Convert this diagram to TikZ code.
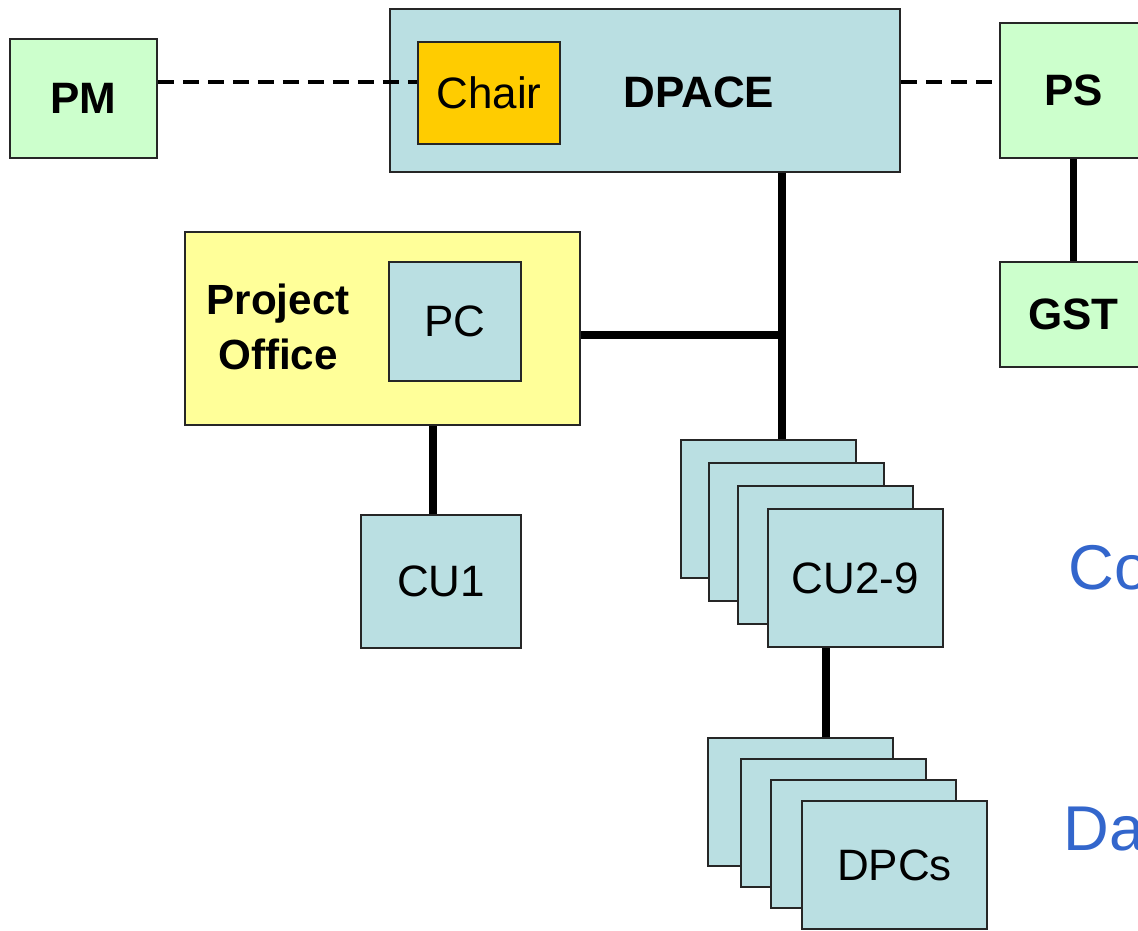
\documentclass[tikz,border=0pt]{standalone}
\usepackage{fontspec}
\setmainfont{Liberation Sans}
\definecolor{boxblue}{HTML}{BADFE2}
\definecolor{boxgreen}{HTML}{CCFFCC}
\definecolor{boxyellow}{HTML}{FFFF99}
\definecolor{chairorange}{HTML}{FFCC00}
\definecolor{sideblue}{HTML}{3366CC}
\tikzset{
  unit/.style={draw=black!85, line width=0.6pt, inner sep=0pt,
    font=\fontsize{12.5}{15}\selectfont},
  bluebox/.style={unit, fill=boxblue},
  greenbox/.style={unit, fill=boxgreen, font=\fontsize{12.5}{15}\selectfont\bfseries},
  yellowbox/.style={unit, fill=boxyellow},
  chairbox/.style={unit, fill=chairorange},
  link/.style={line width=2pt},
  dotted link/.style={line width=1.2pt, dash pattern=on 4.5pt off 2.6pt},
  sidetext/.style={anchor=base west, inner sep=0pt, text=sideblue,
    font=\fontsize{18}{22}\selectfont},
}
\begin{document}
\begin{tikzpicture}[x=0.01cm, y=-0.01cm]
\useasboundingbox (0,0) rectangle (1138,931);
\clip (0,0) rectangle (1138,931);

% top row: programme manager, board with chair, scientist
\node[greenbox, minimum width=14.7mm, minimum height=11.9mm] (pm) at (83.5,98.5) {PM};
\node[bluebox, minimum width=51mm, minimum height=16.3mm] (dpace) at (645,90.5) {};
\node[font=\fontsize{12.5}{15}\selectfont\bfseries, inner sep=0pt] (dpacelbl) at (699,92) {DPACE};
\node[chairbox, minimum width=14.2mm, minimum height=10.2mm] (chair) at (489,93) {Chair};
\node[greenbox, minimum width=14.7mm, minimum height=13.5mm] (ps) at (1073.5,90.5) {PS};
\node[greenbox, minimum width=14.7mm, minimum height=10.5mm] (gst) at (1073.5,314.5) {GST};

% project office with its coordinator
\node[yellowbox, minimum width=39.5mm, minimum height=19.3mm] (po) at (382.5,328.5) {};
\node[font=\fontsize{12}{15.4}\selectfont\bfseries, align=center, inner sep=0pt] (polbl) at (278,327) {Project\\Office};
\node[bluebox, minimum width=13.2mm, minimum height=11.9mm] (pc) at (455,321.5) {PC};
\node[bluebox, minimum width=16mm, minimum height=13.3mm] (cu1) at (441,581.5) {CU1};

% stacked coordination units
\foreach \n/\cx/\cy in {a/768.5/509, b/796.5/532, c/825.5/555}
  \node[bluebox, minimum width=17.5mm, minimum height=13.8mm] (cu\n) at (\cx,\cy) {};
\node[bluebox, minimum width=17.5mm, minimum height=13.8mm] (cud) at (855.5,578) {CU2-9};

% stacked data processing centres
\foreach \n/\cx/\cy in {a/800.5/802, b/833.5/823, c/863.5/844}
  \node[bluebox, minimum width=18.5mm, minimum height=12.8mm] (dpc\n) at (\cx,\cy) {};
\node[bluebox, minimum width=18.5mm, minimum height=12.8mm] (dpcd) at (894.5,865) {DPCs};

% side labels, running off the right edge
\node[sidetext] (co) at (1068,590) {Co};
\node[sidetext] (da) at (1063,851) {Da};

% connectors
\coordinate (dashy) at (0,82);
\coordinate (trunk) at (782,335);
\draw[dotted link] (pm.east |- dashy) -- (chair.west |- dashy);
\draw[dotted link] (dpace.east |- dashy) -- (ps.west |- dashy);
\draw[link] (dpace.south -| trunk) -- (cua.north -| trunk);
\draw[link] (po.east |- trunk) -- ([xshift=1pt]trunk);
\coordinate (poleg) at (433,0);
\draw[link] (po.south -| poleg) -- (cu1.north -| poleg);
\draw[link] (ps.south -| gst.north) -- (gst.north);
\coordinate (culeg) at (826,0);
\draw[link] (cud.south -| culeg) -- (dpca.north -| culeg);
\end{tikzpicture}
\end{document}
